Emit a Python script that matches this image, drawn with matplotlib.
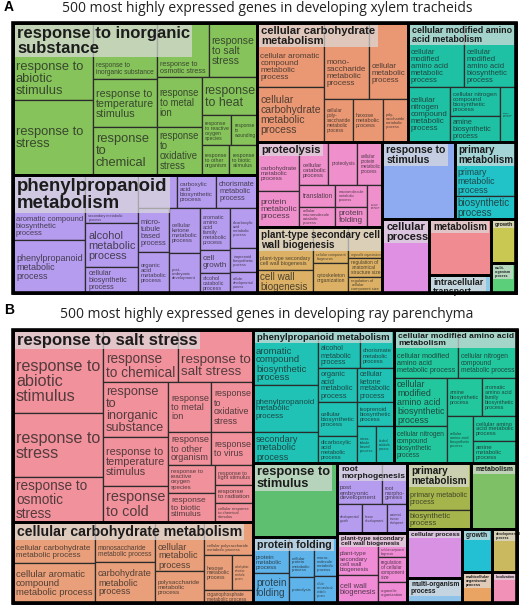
import matplotlib
matplotlib.use("Agg")
import matplotlib.pyplot as plt
from matplotlib.patches import Rectangle

# Layout trees: ("H", [...]) puts children side by side, ("V", [...]) stacks them.
# Leaves are (GO term, relative area).

# ---------- panel A ----------
a_title = "500 most highly expressed genes in developing xylem tracheids"

a_inorganic = ("H", [
    ("V", [("response to abiotic stimulus", 6160), ("response to stress", 5920)]),
    ("V", [("response to inorganic substance", 3584), ("response to temperature stimulus", 3072),
           ("response to chemical", 3008)]),
    ("V", [("H", [("response to osmotic stress", 2808), ("response to salt stress", 2646)]),
           ("H", [("V", [("response to metal ion", 2250), ("response to oxidative stress", 2115)]),
                  ("V", [("response to heat", 2128),
                         ("H", [("response to reactive oxygen species", 900), ("response to wounding", 780)]),
                         ("H", [("response to other organism", 812), ("response to biotic stimulus", 812)])])])]),
])

a_phenyl = ("H", [
    ("V", [("aromatic compound biosynthetic process", 4752), ("phenylpropanoid metabolic process", 3816)]),
    ("V", [("secondary metabolic process", 2548), ("alcohol metabolic process", 2288),
           ("cellular biosynthetic process", 1352)]),
    ("V", [("H", [("aromatic amino acid family biosynthetic process", 1326),
                  ("carboxylic acid biosynthetic process", 1326), ("chorismate metabolic process", 1394)]),
           ("H", [("V", [("micro-tubule based process", 1364), ("organic acid metabolic process", 1271)]),
                  ("V", [("cellular ketone metabolic process", 1395), ("post-embryonic development", 1240)]),
                  ("V", [("aromatic amino acid family metabolic process", 1260), ("cell growth", 690),
                         ("alcohol catabolic process", 600)]),
                  ("V", [("dicarboxylic acid metabolic process", 1080), ("isoprenoid biosynthetic process", 648),
                         ("cellular developmental process", 567)])])]),
])

a_carbo = ("H", [
    ("V", [("cellular aromatic compound metabolic process", 4224),
           ("cellular carbohydrate metabolic process", 3630)]),
    ("V", [("H", [("mono-saccharide metabolic process", 3420), ("cellular metabolic process", 2964)]),
           ("H", [("cellular poly-saccharide metabolic process", 1247), ("hexose metabolic process", 1290),
                  ("poly-saccharide metabolic process", 1075)])]),
])

a_amino = ("V", [
    ("H", [("cellular modified amino acid metabolic process", 3584),
           ("cellular modified amino acid biosynthetic process", 3328)]),
    ("H", [("cellular nitrogen compound metabolic process", 2310),
           ("V", [("cellular nitrogen compound biosynthetic process", 1450), ("amine biosynthetic process", 1300)]),
           ("amine metabolic process", 880)]),
])

a_proteo = ("H", [
    ("V", [("carbohydrate metabolic process", 2058), ("protein metabolic process", 1512)]),
    ("V", [("H", [("cellular catabolic process", 1247), ("proteolysis", 1247),
                  ("cellular protein metabolic process", 1075)]),
           ("H", [("V", [("translation", 792), ("cellular macromolecule catabolic process", 720)]),
                  ("V", [("macromolecule metabolic process", 704), ("protein folding", 640)]),
                  ("cellular protein catabolic process", 630)])]),
])

a_wall = ("H", [
    ("V", [("plant-type secondary cell wall biogenesis", 2408), ("cell wall biogenesis", 1288)]),
    ("V", [("cellular component biogenesis", 1260), ("cytoskeleton organization", 1050)]),
    ("V", [("organelle organization", 1054), ("regulation of anatomical structure size", 646),
           ("regulation of cellular component size", 544)]),
])

a_primary = ("V", [("primary metabolic process", 3294), ("biosynthetic process", 1403)])

a_clusters = {
    "response to inorganic substance": a_inorganic,
    "phenylpropanoid metabolism": a_phenyl,
    "cellular carbohydrate metabolism": a_carbo,
    "cellular modified amino acid metabolism": a_amino,
    "proteolysis": a_proteo,
    "plant-type secondary cell wall biogenesis": a_wall,
    "response to stimulus": ("", 5544),
    "primary metabolism": a_primary,
    "cellular process": ("", 3478),
    "metabolism": ("", 3472),
    "intracellular transport": ("", 1116),
    "growth": ("", 1100),
    "multi-organism process": ("", 750),
}

a_layout = ("H", [
    ("V", ["response to inorganic substance", "phenylpropanoid metabolism"]),
    ("V", [("H", ["cellular carbohydrate metabolism", "cellular modified amino acid metabolism"]),
           ("H", [("V", ["proteolysis", "plant-type secondary cell wall biogenesis"]),
                  ("V", [("H", ["response to stimulus", "primary metabolism"]),
                         ("H", ["cellular process",
                                ("V", ["metabolism", "intracellular transport"]),
                                ("V", ["growth", "multi-organism process"])])])])]),
])

# ---------- panel B ----------
b_title = "500 most highly expressed genes in developing ray parenchyma"

b_salt = ("H", [
    ("V", [("response to abiotic stimulus", 7470), ("response to stress", 5760),
           ("response to osmotic stress", 4050)]),
    ("V", [("H", [("response to chemical", 3900), ("response to salt stress", 3900)]),
           ("H", [("V", [("response to inorganic substance", 3575), ("response to temperature stimulus", 3185),
                         ("response to cold", 2340)]),
                  ("V", [("H", [("V", [("response to metal ion", 2150), ("response to other organism", 1419)]),
                                ("V", [("response to oxidative stress", 2100), ("response to virus", 1386)])]),
                         ("H", [("V", [("response to reactive oxygen species", 1316),
                                       ("response to biotic stimulus", 1363)]),
                                ("V", [("response to light stimulus", 760), ("response to radiation", 684),
                                       ("cellular response to chemical stimulus", 722)])])])])]),
])

b_carbo = ("H", [
    ("V", [("cellular carbohydrate metabolic process", 3362),
           ("cellular aromatic compound metabolic process", 3280)]),
    ("V", [("monosaccharide metabolic process", 2400), ("carbohydrate metabolic process", 2460)]),
    ("V", [("cellular metabolic process", 2401), ("polysaccharide metabolic process", 1568)]),
    ("V", [("cellular polysaccharide metabolic process", 1617),
           ("H", [("hexose metabolic process", 980), ("carbohydrate derivative metabolic process", 735)]),
           ("organophosphate metabolic process", 637)]),
])

b_phenyl = ("H", [
    ("V", [("aromatic compound biosynthetic process", 3575), ("phenylpropanoid metabolic process", 3055),
           ("secondary metabolic process", 2015)]),
    ("V", [("H", [("alcohol metabolic process", 1596), ("chorismate metabolic process", 1292)]),
           ("H", [("V", [("organic acid metabolic process", 1326), ("cellular biosynthetic process", 1326),
                         ("dicarboxylic acid metabolic process", 1053)]),
                  ("V", [("cellular ketone metabolic process", 1258), ("isoprenoid biosynthetic process", 888),
                         ("H", [("micro-tubule based process", 703), ("alcohol catabolic process", 666)])])])]),
])

b_amino = ("V", [
    ("H", [("cellular modified amino acid metabolic process", 3072),
           ("cellular nitrogen compound metabolic process", 2832)]),
    ("H", [("V", [("cellular modified amino acid biosynthetic process", 2544),
                  ("cellular nitrogen compound biosynthetic process", 1961)]),
           ("V", [("H", [("amine biosynthetic process", 1330),
                         ("aromatic amino acid family biosynthetic process", 1330)]),
                  ("H", [("cellular amino acid biosynthetic process", 1222),
                         ("V", [("cellular amino acid metabolic process", 1100),
                                ("amine metabolic process", 968)])])])]),
])

b_folding = ("H", [
    ("V", [("protein metabolic process", 1296), ("protein folding", 1080)]),
    ("V", [("cellular protein metabolic process", 1000), ("proteolysis", 650)]),
    ("V", [("macro-molecule metabolic process", 897), ("cellular macromolecule catabolic process", 621)]),
])

b_root = ("V", [
    ("H", [("post embryonic development", 1845), ("root morpho-genesis", 1025)]),
    ("H", [("developmental growth", 725), ("tissue development", 725),
           ("anatomical structure development", 580)]),
])

b_primary = ("V", [("primary metabolic process", 3008), ("biosynthetic process", 1216)])

b_wall = ("H", [
    ("V", [("plant-type secondary cell wall biogenesis", 1722), ("cell wall biogenesis", 1148)]),
    ("V", [("cellular component biogenesis", 696), ("regulation of cellular component size", 725),
           ("organelle organization", 609)]),
])

b_clusters = {
    "response to salt stress": b_salt,
    "cellular carbohydrate metabolism": b_carbo,
    "phenylpropanoid metabolism": b_phenyl,
    "cellular modified amino acid metabolism": b_amino,
    "response to stimulus": ("", 6216),
    "protein folding": b_folding,
    "root morphogenesis": b_root,
    "plant-type secondary cell wall biogenesis": b_wall,
    "primary metabolism": b_primary,
    "metabolism": ("", 3036),
    "cellular process": ("", 2695),
    "multi-organism process": ("", 1375),
    "growth": ("", 1290),
    "multicellular organismal process": ("", 930),
    "developmental process": ("", 1075),
    "localization": ("", 775),
}

b_layout = ("H", [
    ("V", ["response to salt stress", "cellular carbohydrate metabolism"]),
    ("V", [("H", ["phenylpropanoid metabolism", "cellular modified amino acid metabolism"]),
           ("H", [("V", ["response to stimulus", "protein folding"]),
                  ("V", ["root morphogenesis", "plant-type secondary cell wall biogenesis"]),
                  ("V", [("H", ["primary metabolism", "metabolism"]),
                         ("H", [("V", ["cellular process", "multi-organism process"]),
                                ("V", ["growth", "multicellular organismal process"]),
                                ("V", ["developmental process", "localization"])])])])]),
])

# ---------- styles ----------
a_colors = {
    "response to inorganic substance": "#86c35b", "phenylpropanoid metabolism": "#b69cef",
    "cellular carbohydrate metabolism": "#e99873", "cellular modified amino acid metabolism": "#1fc1a5",
    "proteolysis": "#ef8fcc", "plant-type secondary cell wall biogenesis": "#dcb165",
    "response to stimulus": "#8eaaf0", "primary metabolism": "#22c2c9", "cellular process": "#df90e3",
    "metabolism": "#f08c91", "intracellular transport": "#8ec9e6", "growth": "#c9c853",
    "multi-organism process": "#5ccf7a",
}
b_colors = {
    "response to salt stress": "#f0919b", "cellular carbohydrate metabolism": "#e9a07a",
    "phenylpropanoid metabolism": "#1fc2b5", "cellular modified amino acid metabolism": "#22c79d",
    "response to stimulus": "#5fbf70", "root morphogenesis": "#b69cef", "primary metabolism": "#a6b54b",
    "metabolism": "#7ec066", "protein folding": "#5db3ea", "plant-type secondary cell wall biogenesis": "#f08bd5",
    "cellular process": "#d891e3", "growth": "#22c0d2", "developmental process": "#cbb95f",
    "multi-organism process": "#8fc3ea", "multicellular organismal process": "#e9a463", "localization": "#f291b8",
}
a_header_fs = {
    "response to inorganic substance": 12, "phenylpropanoid metabolism": 13.4,
    "cellular carbohydrate metabolism": 8.1, "cellular modified amino acid metabolism": 6.4,
    "proteolysis": 8, "plant-type secondary cell wall biogenesis": 7.1, "response to stimulus": 7.6,
    "primary metabolism": 7.1, "cellular process": 7.9, "metabolism": 7, "intracellular transport": 6.3,
    "growth": 4.0, "multi-organism process": 2.5,
}
b_header_fs = {
    "response to salt stress": 12, "cellular carbohydrate metabolism": 10.2,
    "phenylpropanoid metabolism": 6.8, "cellular modified amino acid metabolism": 6.1,
    "response to stimulus": 9.3, "protein folding": 7.7, "root morphogenesis": 6.1,
    "primary metabolism": 7.2, "metabolism": 4.9, "plant-type secondary cell wall biogenesis": 4.5,
    "cellular process": 4.6, "growth": 4.8, "developmental process": 2.5,
    "multi-organism process": 4.8, "multicellular organismal process": 2.9, "localization": 2.5,
}
# narrower wrap width for headers that break earlier than the box allows
header_wrap = {"phenylpropanoid metabolism": 160}

FONT = "Liberation Sans"
LS = 1.0

fig = plt.figure(figsize=(5.23, 6.07), dpi=100)
ax = fig.add_axes([0, 0, 1, 1])
ax.set_xlim(0, 523)
ax.set_ylim(607, 0)
ax.axis("off")
renderer = fig.canvas.get_renderer()


def weight(node, clusters):
    if isinstance(node, str):
        return weight(clusters[node], clusters)
    if isinstance(node[1], list):
        return sum(weight(k, clusters) for k in node[1])
    return node[1]


def layout(node, box, clusters, out):
    x0, y0, x1, y1 = box
    if isinstance(node, str) or not isinstance(node[1], list):
        out.append((node, box))
        return
    kind, kids = node
    tot = sum(weight(k, clusters) for k in kids)
    pos = x0 if kind == "H" else y0
    for k in kids:
        f = weight(k, clusters) / tot
        if kind == "H":
            nxt = pos + (x1 - x0) * f
            layout(k, (pos, y0, nxt, y1), clusters, out)
        else:
            nxt = pos + (y1 - y0) * f
            layout(k, (x0, pos, x1, nxt), clusters, out)
        pos = nxt


_widths = {}


def text_w(s, bold):
    # width in px at 10 pt
    if (s, bold) not in _widths:
        t = ax.text(0, 0, s, family=FONT, fontsize=10, fontweight="bold" if bold else "normal")
        _widths[(s, bold)] = t.get_window_extent(renderer).width
        t.remove()
    return _widths[(s, bold)]


def block_metrics(bold):
    kw = dict(family=FONT, fontsize=10, fontweight="bold" if bold else "normal", linespacing=LS)
    t1 = ax.text(0, 0, "lp", **kw)
    t2 = ax.text(0, 0, "lp\nlp", **kw)
    h1 = t1.get_window_extent(renderer).height
    h2 = t2.get_window_extent(renderer).height
    t1.remove()
    t2.remove()
    return h1, h2 - h1


METRICS = {False: block_metrics(False), True: block_metrics(True)}


def tokens(label):
    out = []
    for word in label.split(" "):
        parts = word.split("-")
        for i, p in enumerate(parts):
            out.append(p + ("-" if i < len(parts) - 1 else ""))
    return out


def join(toks):
    s = ""
    for t in toks:
        if s and not s.endswith("-"):
            s += " "
        s += t
    return s


def wrap(toks, maxw, fs, bold):
    lines, cur = [], []
    for t in toks:
        trial = cur + [t]
        if cur and text_w(join(trial), bold) * fs / 10 > maxw:
            lines.append(join(cur))
            cur = [t]
        else:
            cur = trial
    if cur:
        lines.append(join(cur))
    return lines


def fit(label, w, h, cap):
    toks = tokens(label)
    h1, pitch = METRICS[False]
    fs = cap
    while True:
        lines = wrap(toks, w, fs, False)
        bw = max(text_w(l, False) for l in lines) * fs / 10
        bh = (h1 + (len(lines) - 1) * pitch) * fs / 10
        if (bw <= w and bh <= h) or fs <= 1.5:
            return fs, lines
        fs -= 0.2


def draw_panel(top, clusters, colors, header_fs, frame, cap):
    placed = []
    layout(top, frame, clusters, placed)
    for name, (x0, y0, x1, y1) in placed:
        clip = Rectangle((x0, y0), x1 - x0, y1 - y0, transform=ax.transData)
        fs = header_fs[name]
        hlines = wrap(tokens(name), header_wrap.get(name, x1 - x0 - 6), fs, True)
        ht = ax.text(x0 + 4, y0 + 3, "\n".join(hlines), family=FONT, fontsize=fs, fontweight="bold",
                     ha="left", va="top", linespacing=LS, color="#1c1c1c", zorder=6)
        ht.set_clip_path(clip)
        bb = ht.get_window_extent(renderer).transformed(ax.transData.inverted())
        hx0, hx1 = bb.x0 - 2, bb.x1 + 2
        hy0, hy1 = min(bb.y0, bb.y1) - 1, max(bb.y0, bb.y1) + 1
        hb = Rectangle((hx0, hy0), hx1 - hx0, hy1 - hy0, fc="#dcdcdc", ec="none", alpha=0.7, zorder=5)
        ax.add_patch(hb)
        hb.set_clip_path(clip)

        leaves = []
        layout(clusters[name], (x0, y0, x1, y1), {}, leaves)
        for (label, _), (lx0, ly0, lx1, ly1) in leaves:
            r = Rectangle((lx0, ly0), lx1 - lx0, ly1 - ly0, fc=colors[name], ec="#2b2b2b", lw=0.9, zorder=2)
            ax.add_patch(r)
            if not label:
                continue
            top_y = ly0
            if lx0 < hx1 and lx1 > hx0 and ly0 < hy1:
                top_y = max(ly0, hy1)
            aw = lx1 - lx0 - 5
            ah = ly1 - top_y - 3
            if aw < 3 or ah < 3:
                continue
            lfs, llines = fit(label, aw, ah, cap)
            lt = ax.text(lx0 + 3, (top_y + ly1) / 2 + 0.5, "\n".join(llines), family=FONT, fontsize=lfs,
                         ha="left", va="center", linespacing=LS, color="#1e1e1e", alpha=0.75, zorder=3)
            lt.set_clip_path(r)
        ax.add_patch(Rectangle((x0, y0), x1 - x0, y1 - y0, fill=False, ec="black", lw=2.0, zorder=7))
    fx0, fy0, fx1, fy1 = frame
    ax.add_patch(Rectangle((fx0, fy0), fx1 - fx0, fy1 - fy0, fill=False, ec="black", lw=2.6, zorder=8))


draw_panel(a_layout, a_clusters, a_colors, a_header_fs, (13, 23, 516, 293), 9.3)
draw_panel(b_layout, b_clusters, b_colors, b_header_fs, (13, 330, 517, 603), 11.6)

ax.text(267, 9, a_title, family="Open Sans", fontsize=10, ha="center", va="center", color="#222222")
ax.text(267, 314, b_title, family="Open Sans", fontsize=10, ha="center", va="center", color="#222222")
ax.text(4, 7, "A", family=FONT, fontsize=10, fontweight="bold", ha="left", va="center")
ax.text(4, 310, "B", family=FONT, fontsize=10, fontweight="bold", ha="left", va="center")

fig.savefig("out.png", dpi=100)
